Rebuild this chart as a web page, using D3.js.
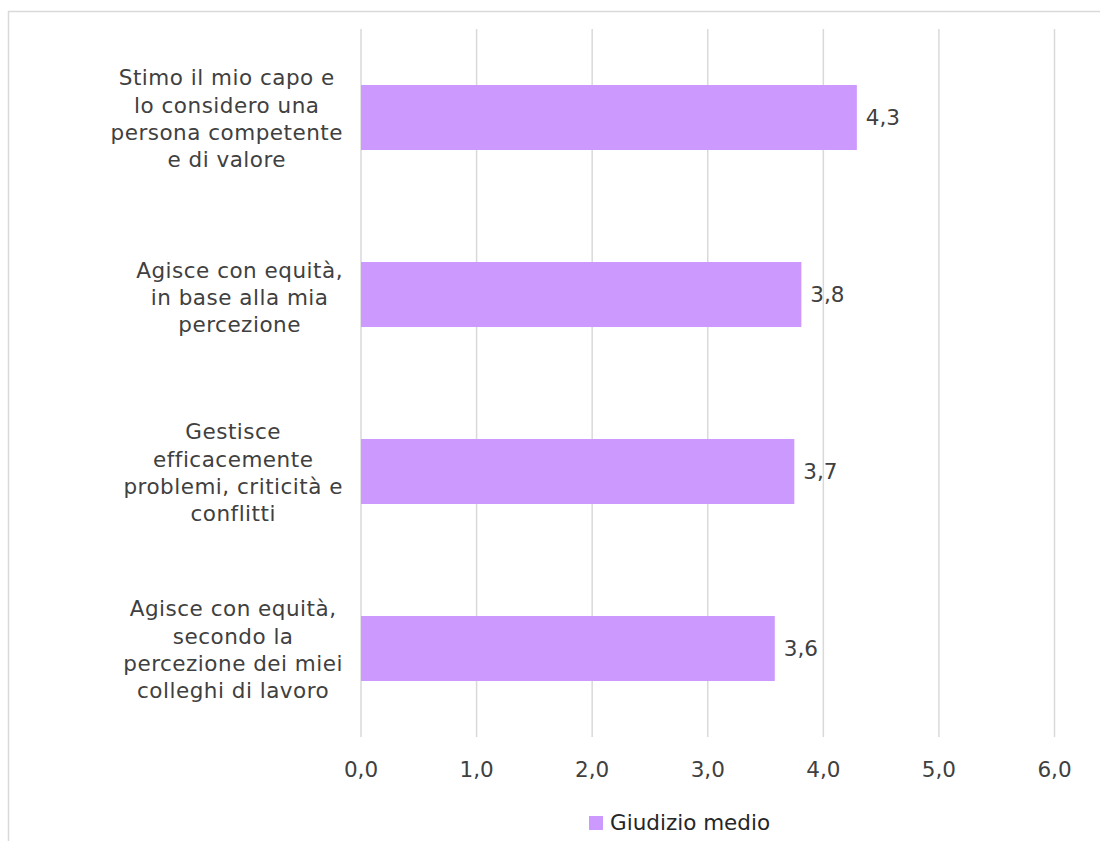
<!DOCTYPE html>
<html>
<head>
<meta charset="utf-8">
<script src="https://cdn.jsdelivr.net/npm/d3@7"></script>
<style>
	body { margin: 0; background: #fff; }
	svg { display: block; font-family: 'DejaVu Sans', Verdana, sans-serif; }
</style>
</head>
<body>
<div class="canvas"></div>
<script>
// data
const categories = [
	['Stimo il mio capo e', 'lo considero una', 'persona competente', 'e di valore'],
	['Agisce con equità,', 'in base alla mia', 'percezione'],
	['Gestisce', 'efficacemente', 'problemi, criticità e', 'conflitti'],
	['Agisce con equità,', 'secondo la', 'percezione dei miei', 'colleghi di lavoro']
];
const values = [4.29, 3.81, 3.749, 3.58];
const ticks = [0, 1, 2, 3, 4, 5, 6];
const seriesName = 'Giudizio medio';

const dims = {width: 1100, height: 841};
const plot = {left: 361, right: 1054.5, top: 29, bottom: 737};
const fontSize = 21.5;
const lineHeight = 27.3;
const labelRight = 343;
const barColour = '#cc99ff';
const textColour = '#404040';
const gridColour = '#d9d9d9';

const fmt = v => d3.format('.1f')(v).replace('.', ',');

const svg = d3.select('.canvas')
	.append('svg')
	.attr('width', dims.width)
	.attr('height', dims.height);

// chart frame (runs off the page)
svg.append('rect')
	.attr('x', 8.5)
	.attr('y', 11.5)
	.attr('width', dims.width + 20)
	.attr('height', dims.height + 20)
	.attr('fill', 'none')
	.attr('stroke', gridColour)
	.attr('stroke-width', 1.5);

// scales
const x = d3.scaleLinear()
	.domain([0, 6])
	.range([plot.left, plot.right]);

const y = d3.scaleBand()
	.domain(d3.range(categories.length))
	.range([plot.top, plot.bottom])
	.paddingInner(0.633)
	.paddingOuter(0.3165);

// gridlines
svg.append('g')
	.selectAll('line')
	.data(ticks)
	.enter()
	.append('line')
		.attr('x1', d => x(d))
		.attr('x2', d => x(d))
		.attr('y1', plot.top)
		.attr('y2', plot.bottom)
		.attr('stroke', gridColour)
		.attr('stroke-width', 1.5);

// tick labels
svg.append('g')
	.selectAll('text')
	.data(ticks)
	.enter()
	.append('text')
		.attr('x', d => x(d))
		.attr('y', 777)
		.attr('text-anchor', 'middle')
		.attr('fill', textColour)
		.attr('font-size', fontSize)
		.text(d => fmt(d));

// bars
svg.append('g')
	.selectAll('rect')
	.data(values)
	.enter()
	.append('rect')
		.attr('x', x(0))
		.attr('y', (d, i) => y(i))
		.attr('width', d => x(d) - x(0))
		.attr('height', y.bandwidth())
		.attr('fill', barColour);

// data labels
svg.append('g')
	.selectAll('text')
	.data(values)
	.enter()
	.append('text')
		.attr('x', d => x(d) + 9)
		.attr('y', (d, i) => y(i) + y.bandwidth() / 2)
		.attr('dy', '0.36em')
		.attr('fill', textColour)
		.attr('font-size', fontSize)
		.text(d => fmt(d));

// category labels: lines centred in a block, block pushed against the axis
const catLabels = svg.append('g')
	.selectAll('text')
	.data(categories)
	.enter()
	.append('text')
		.attr('text-anchor', 'middle')
		.attr('fill', textColour)
		.attr('font-size', fontSize)
		.attr('letter-spacing', 0.5);

catLabels.each(function (lines, i) {
	const cy = y(i) + y.bandwidth() / 2;
	const first = cy - (lines.length - 1) / 2 * lineHeight + (lines.length < 4 ? 10.5 : 8.8);
	const tspans = d3.select(this).selectAll('tspan')
		.data(lines)
		.enter()
		.append('tspan')
			.attr('y', (d, j) => first + j * lineHeight)
			.text(d => d);
	const maxW = d3.max(tspans.nodes(), n => n.getComputedTextLength());
	tspans.attr('x', labelRight - maxW / 2);
});

// legend
const legend = svg.append('g')
	.attr('transform', 'translate(589, 816)');

legend.append('rect')
	.attr('width', 14)
	.attr('height', 14)
	.attr('fill', barColour);

legend.append('text')
	.attr('x', 21)
	.attr('y', 14)
	.attr('fill', '#262626')
	.attr('font-size', fontSize)
	.text(seriesName);
</script>
</body>
</html>
